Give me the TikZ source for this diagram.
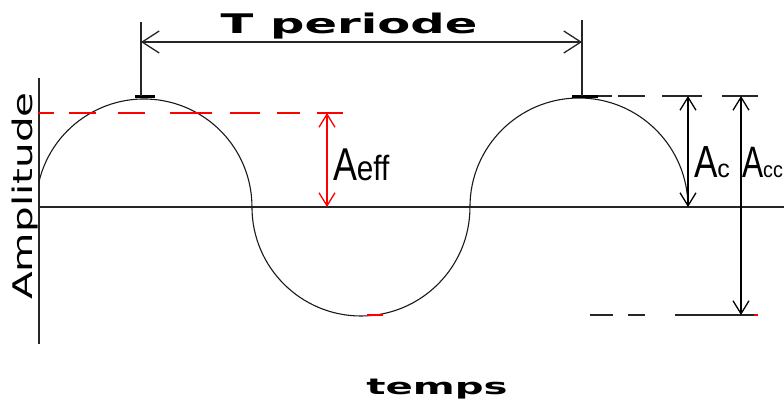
\documentclass[tikz,border=0pt]{standalone}
\usepackage{fontspec}
\setmainfont{DejaVu Sans}
\newfontfamily\arialfont{Liberation Sans}
\usetikzlibrary{arrows.meta}
\begin{document}
\begin{tikzpicture}[x=1pt,y=-1pt,
  axisline/.style={line width=1.6pt,black!85},
  wave/.style={line width=1.1pt,black!90},
  peakbar/.style={line width=3pt},
  guide/.style={line width=1.4pt,black!85},
  reddash/.style={line width=1.4pt,red},
  bigdim/.style={line width=1.3pt,black!85,{Straight Barb[length=17pt,width=22pt]}-{Straight Barb[length=17pt,width=22pt]}},
  smalldim/.style={line width=1.3pt,{Straight Barb[length=13pt,width=16pt]}-{Straight Barb[length=13pt,width=16pt]}},
  lab/.style={inner sep=0pt,outer sep=0pt}]
\useasboundingbox (0,0) rectangle (784,399);
% axes
\coordinate (yaxtop) at (39,78);
\coordinate (yaxbot) at (39,344);
\coordinate (xaxl) at (39,207);
\coordinate (xaxr) at (784,207);
\draw[axisline] (yaxtop) -- (yaxbot);
\draw[axisline] (xaxl) -- (xaxr);
% wave (semicircles)
\coordinate (wstart) at (39,181.6);
\draw[wave] (wstart) arc[start angle=166.4,end angle=0,radius=108pt]
  arc[start angle=180,end angle=360,radius=109pt]
  arc[start angle=180,end angle=0,radius=109pt];
\draw[red,line width=1.4pt] (367,315) -- (383,315);
% peak bars
\coordinate (pk1l) at (135,96); \coordinate (pk1r) at (155,96);
\coordinate (pk2l) at (572,96); \coordinate (pk2r) at (598,96);
\draw[peakbar] (pk1l) -- (pk1r);
\draw[peakbar] (pk2l) -- (pk2r);
% period guides
\coordinate (g1t) at (141,22); \coordinate (g1b) at (141,96);
\coordinate (g2t) at (582,20); \coordinate (g2b) at (582,96);
\draw[guide] (g1t) -- (g1b);
\draw[guide] (g2t) -- (g2b);
\coordinate (tl) at (141,42); \coordinate (tr) at (582,42);
\draw[bigdim] (tl) -- (tr);
\node[lab,anchor=base] (tper) at (349,33)
  {\scalebox{1.78}[1]{\bfseries\fontsize{27}{27}\selectfont T periode}};
% effective value
\foreach \a/\b in {38/54,69/96,118/145,170/212,230/260,277/300,317/343}
  \draw[reddash] (\a,113) -- (\b,113);
\coordinate (efft) at (327,113); \coordinate (effb) at (327,207);
\draw[smalldim,red] (efft) -- (effb);
\node[lab,anchor=base west] (aeff) at (333,180)
  {\arialfont\scalebox{0.78}[1]{\fontsize{46}{46}\selectfont A}\scalebox{0.85}[1]{\fontsize{35}{35}\selectfont eff}};
% peak / peak-to-peak guides
\foreach \a/\b in {598/612,618/645,662/702,722/758}
  \draw[guide] (\a,96) -- (\b,96);
\foreach \a/\b in {590/613,628/645,675/754}
  \draw[guide] (\a,315) -- (\b,315);
\draw[red,line width=1.4pt] (754,315) -- (758,315);
\coordinate (act) at (688,96); \coordinate (acb) at (688,207);
\draw[smalldim] (act) -- (acb);
\coordinate (acct) at (741,96); \coordinate (accb) at (741,315);
\draw[smalldim] (acct) -- (accb);
\node[lab,anchor=base west] (ac) at (694,177)
  {\arialfont\scalebox{0.78}[1]{\fontsize{45}{45}\selectfont A}{\fontsize{25}{25}\selectfont c}};
\node[lab,anchor=base west] (acc) at (742,177)
  {\arialfont\scalebox{0.72}[1]{\fontsize{44}{44}\selectfont A}\scalebox{0.9}[1]{\fontsize{22}{22}\selectfont cc}};
% axis titles
\node[lab,anchor=base,rotate=90] (amp) at (32,196)
  {\scalebox{1.5}[1]{\fontsize{27}{27}\selectfont Amplitude}};
\node[lab,anchor=base] (temps) at (437,394)
  {\scalebox{1.83}[1]{\bfseries\fontsize{22}{22}\selectfont temps}};
\end{tikzpicture}
\end{document}
